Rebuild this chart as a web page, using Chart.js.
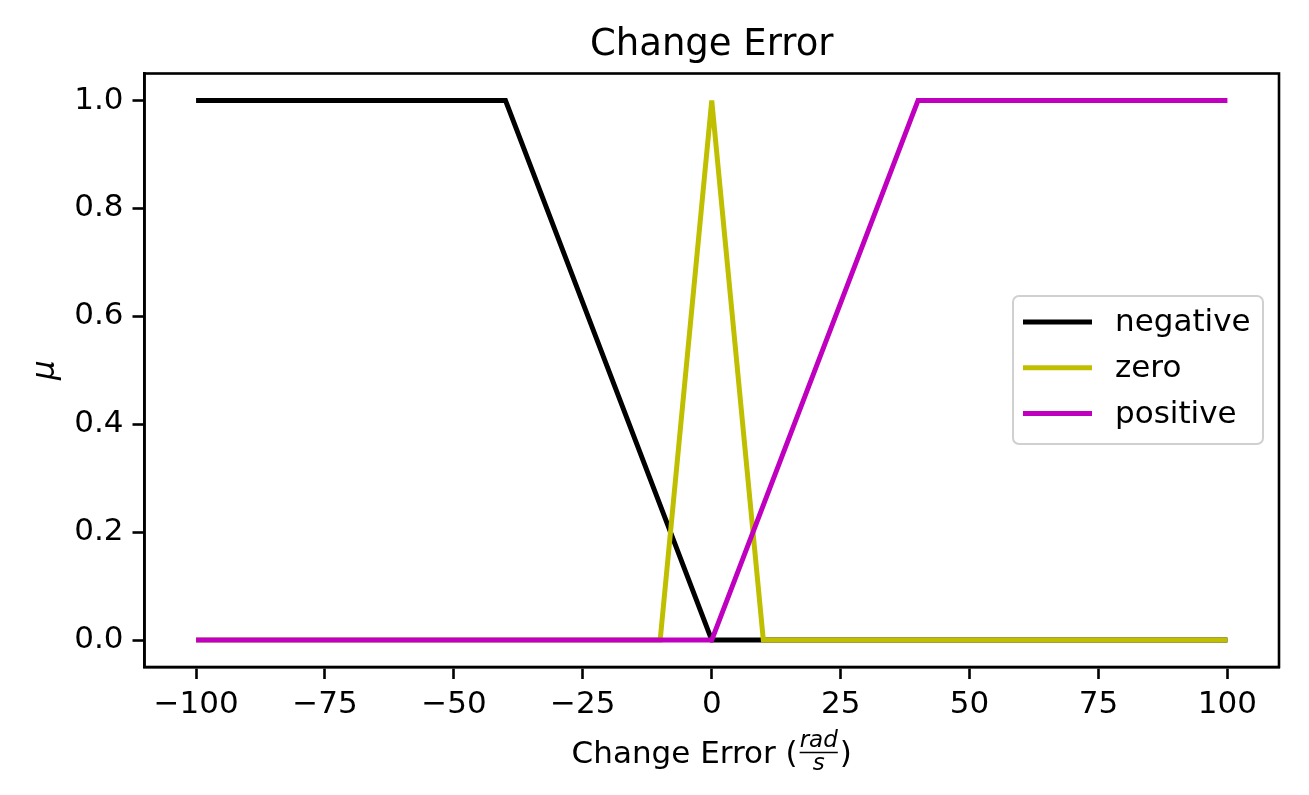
<!DOCTYPE html>
<html>
<head>
<meta charset="utf-8">
<script src="https://cdn.jsdelivr.net/npm/chart.js@4.4.0/dist/chart.umd.min.js"></script>
<style>
  html, body { margin: 0; padding: 0; background: #fff; }
  canvas { display: block; }
</style>
</head>
<body>
<canvas id="chart" width="1309" height="795"></canvas>
<script>
// 데이터: 소속 함수 꺾임점
const negativeX = [-100, -40, 0, 100];
const negativeY = [1, 1, 0, 0];
const zeroX = [-100, -10, 0, 10, 100];
const zeroY = [0, 0, 1, 0, 0];
const positiveX = [-100, 0, 40, 100];
const positiveY = [0, 0, 1, 1];

const seriesNames = ["negative", "zero", "positive"];
const seriesColors = ["#000000", "#bfbf00", "#bf00bf"];

const xTicks = [-100, -75, -50, -25, 0, 25, 50, 75, 100];
const yTicks = [0, 0.2, 0.4, 0.6, 0.8, 1.0];

const chartTitle = "Change Error";
const xLabel = "Change Error (";
const xLabelNum = "rad";
const xLabelDen = "s";
const yLabel = "μ";

const FONT = "'DejaVu Sans', sans-serif";

function toPoints(xs, ys) {
  return xs.map((x, i) => ({ x: x, y: ys[i] }));
}

// 제목, 축 제목, 범례, 테두리 그리기
const decorPlugin = {
  id: "decor",
  afterDraw(chart) {
    const ctx = chart.ctx;
    const a = chart.chartArea;
    ctx.save();

    // 테두리
    ctx.strokeStyle = "#000";
    ctx.lineWidth = 2.6;
    ctx.strokeRect(a.left, a.top, a.right - a.left, a.bottom - a.top);

    // 제목
    ctx.fillStyle = "#000";
    ctx.font = "37px " + FONT;
    ctx.textAlign = "center";
    ctx.textBaseline = "alphabetic";
    ctx.fillText(chartTitle, (a.left + a.right) / 2, 55);

    // x축 제목 (분수 포함)
    ctx.font = "31px " + FONT;
    const mainW = ctx.measureText(xLabel).width;
    ctx.font = "italic 23px " + FONT;
    const numW = ctx.measureText(xLabelNum).width;
    ctx.font = "31px " + FONT;
    const closeW = ctx.measureText(")").width;
    const fracW = numW + 4;
    const total = mainW + fracW + closeW;
    const x0 = (a.left + a.right) / 2 - total / 2;
    const base = 763;
    ctx.textAlign = "left";
    ctx.fillText(xLabel, x0, base);
    const fx = x0 + mainW + fracW / 2;
    ctx.font = "italic 23px " + FONT;
    ctx.textAlign = "center";
    ctx.fillText(xLabelNum, fx, base - 16);
    ctx.fillText(xLabelDen, fx, base + 7);
    ctx.lineWidth = 1.3;
    ctx.beginPath();
    ctx.moveTo(fx - numW / 2, base - 10.5);
    ctx.lineTo(fx + numW / 2, base - 10.5);
    ctx.stroke();
    ctx.font = "31px " + FONT;
    ctx.textAlign = "left";
    ctx.fillText(")", x0 + mainW + fracW, base);

    // y축 제목
    ctx.save();
    ctx.translate(54, (a.top + a.bottom) / 2);
    ctx.rotate(-Math.PI / 2);
    ctx.font = "italic 31px " + FONT;
    ctx.textAlign = "center";
    ctx.fillText(yLabel, 0, 0);
    ctx.restore();

    // 범례
    const bx = 1013, by = 296, bw = 250, bh = 148, r = 6;
    ctx.beginPath();
    ctx.moveTo(bx + r, by);
    ctx.arcTo(bx + bw, by, bx + bw, by + bh, r);
    ctx.arcTo(bx + bw, by + bh, bx, by + bh, r);
    ctx.arcTo(bx, by + bh, bx, by, r);
    ctx.arcTo(bx, by, bx + bw, by, r);
    ctx.closePath();
    ctx.fillStyle = "rgba(255,255,255,0.8)";
    ctx.fill();
    ctx.strokeStyle = "#d0d0d0";
    ctx.lineWidth = 2;
    ctx.stroke();

    ctx.font = "31px " + FONT;
    ctx.textAlign = "left";
    ctx.textBaseline = "middle";
    chart.data.datasets.forEach((ds, i) => {
      const ly = 322 + i * 45.8;
      ctx.strokeStyle = ds.borderColor;
      ctx.lineWidth = 5;
      ctx.beginPath();
      ctx.moveTo(1023, ly);
      ctx.lineTo(1092, ly);
      ctx.stroke();
      ctx.fillStyle = "#000";
      ctx.fillText(ds.label, 1115, ly + 1);
    });

    ctx.restore();
  }
};

const ctx = document.getElementById("chart").getContext("2d");
new Chart(ctx, {
  type: "line",
  data: {
    datasets: [
      { label: seriesNames[0], data: toPoints(negativeX, negativeY) },
      { label: seriesNames[1], data: toPoints(zeroX, zeroY) },
      { label: seriesNames[2], data: toPoints(positiveX, positiveY) }
    ].map((ds, i) => Object.assign(ds, {
      borderColor: seriesColors[i],
      backgroundColor: seriesColors[i],
      borderWidth: 5,
      pointRadius: 0,
      fill: false,
      tension: 0,
      borderJoinStyle: "miter",
      borderCapStyle: "butt",
      order: 3 - i
    }))
  },
  options: {
    responsive: false,
    animation: false,
    layout: { padding: { left: 0, top: 73.5, right: 30, bottom: 0 } },
    plugins: {
      legend: { display: false },
      title: { display: false },
      tooltip: { enabled: false }
    },
    scales: {
      x: {
        type: "linear",
        min: -110,
        max: 110,
        afterBuildTicks: (s) => { s.ticks = xTicks.map(v => ({ value: v })); },
        afterFit: (s) => { s.height = 795 - 667; },
        grid: {
          drawOnChartArea: false,
          drawTicks: true,
          tickLength: 12,
          tickColor: "#000",
          tickWidth: 2.6
        },
        border: { display: true, color: "#000", width: 2.6 },
        ticks: {
          color: "#000",
          padding: 7,
          maxRotation: 0,
          font: { family: FONT, size: 31 },
          callback: (v) => (v < 0 ? "\u2212" + Math.abs(v) : String(v))
        }
      },
      y: {
        type: "linear",
        min: -0.05,
        max: 1.05,
        afterBuildTicks: (s) => { s.ticks = yTicks.map(v => ({ value: v })); },
        afterFit: (s) => { s.width = 144.5; },
        grid: {
          drawOnChartArea: false,
          drawTicks: true,
          tickLength: 12,
          tickColor: "#000",
          tickWidth: 2.6
        },
        border: { display: true, color: "#000", width: 2.6 },
        ticks: {
          color: "#000",
          padding: 9,
          font: { family: FONT, size: 31 },
          callback: (v) => Number(v).toFixed(1)
        }
      }
    }
  },
  plugins: [decorPlugin]
});
</script>
</body>
</html>
